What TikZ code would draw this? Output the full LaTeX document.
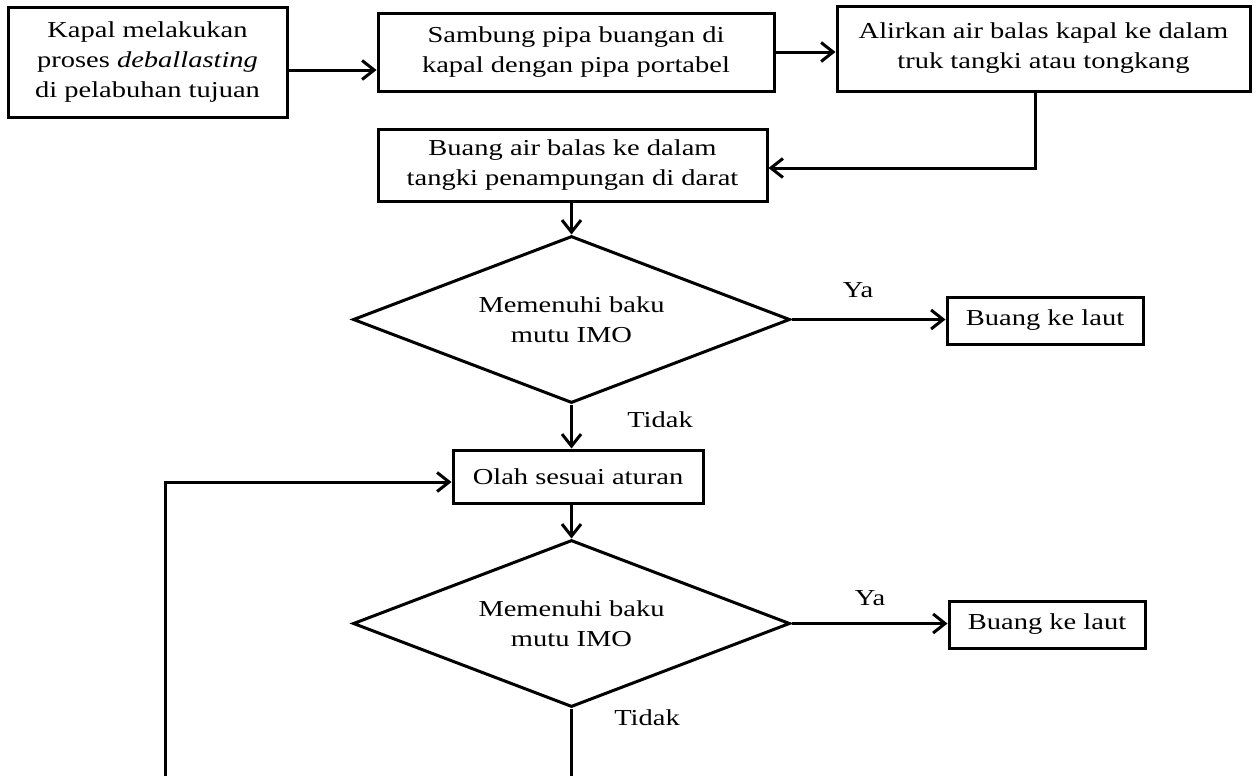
\documentclass[tikz,border=0pt]{standalone}
\usepackage{fontspec}
\setmainfont{Liberation Serif}[FakeStretch=1.25]
\usetikzlibrary{shapes.geometric,arrows.meta}
\tikzset{
  every node/.style={font=\fontsize{11.4}{15}\selectfont},
  procbox/.style={draw,line width=1.5pt,align=center,inner sep=0pt},
  decbox/.style={draw,diamond,aspect=2.6,line width=1.5pt,align=center,inner sep=0pt},
  arr/.style={line width=1.5pt,-{Straight Barb[length=6pt,width=9.5pt,line width=1.5pt]}},
  lin/.style={line width=1.5pt}
}
\begin{document}
\begin{tikzpicture}[x=0.5pt,y=-0.5pt]
\useasboundingbox (0,0) rectangle (1257,776);
% boxes
\node[procbox,minimum width=139.5pt,minimum height=55pt] (kapal) at (147.5,62) {Kapal melakukan\\proses \textit{deballasting}\\di pelabuhan tujuan};
\node[procbox,minimum width=198pt,minimum height=39pt] (sambung) at (576,52) {Sambung pipa buangan di\\kapal dengan pipa portabel};
\node[procbox,minimum width=206.5pt,minimum height=42.5pt] (alirkan) at (1043.5,48.5) {Alirkan air balas kapal ke dalam\\truk tangki atau tongkang};
\node[procbox,minimum width=194.5pt,minimum height=36pt] (buangdarat) at (572.5,165) {Buang air balas ke dalam\\tangki penampungan di darat};
\node[decbox,minimum width=218.5pt,minimum height=83.5pt] (cek1) at (571.5,319.5) {Memenuhi baku\\mutu IMO};
\node[procbox,minimum width=98pt,minimum height=23.5pt] (laut1) at (1045,320.5) {Buang ke laut};
\node[procbox,minimum width=125pt,minimum height=26.5pt] (olah) at (578,476.5) {Olah sesuai aturan};
\node[decbox,minimum width=218.5pt,minimum height=83.5pt] (cek2) at (571.5,623.5) {Memenuhi baku\\mutu IMO};
\node[procbox,minimum width=98pt,minimum height=23.5pt] (laut2) at (1047,624.5) {Buang ke laut};
% labels
\node (ya1) at (858,290) {Ya};
\node (tidak1) at (660,420) {Tidak};
\node (ya2) at (870,598) {Ya};
\node (tidak2) at (647,718) {Tidak};
% corners
\coordinate (sudut) at (1035,168);
\coordinate (loopbawah) at (165,776);
\coordinate (loopatas) at (165,482);
\coordinate (akhir) at (571.5,776);
% connectors
\draw[arr] ([yshift=-4pt]kapal.east) -- ([yshift=-4pt]kapal.east -| sambung.west);
\draw[arr] (sambung.east) -- (sambung.east -| alirkan.west);
\draw[arr] (alirkan.south -| sudut) -- (sudut) -- (sudut -| buangdarat.east);
\draw[arr] (buangdarat.south -| cek1.north) -- (cek1.north);
\draw[arr] (cek1.east) -- (cek1.east -| laut1.west);
\draw[arr] (cek1.south) -- (cek1.south |- olah.north);
\draw[arr] (loopbawah) -- (loopatas) -- (loopatas -| olah.west);
\draw[arr] (cek2.north |- olah.south) -- (cek2.north);
\draw[arr] (cek2.east) -- (cek2.east -| laut2.west);
\draw[lin] (cek2.south) -- (akhir);
\end{tikzpicture}
\end{document}
